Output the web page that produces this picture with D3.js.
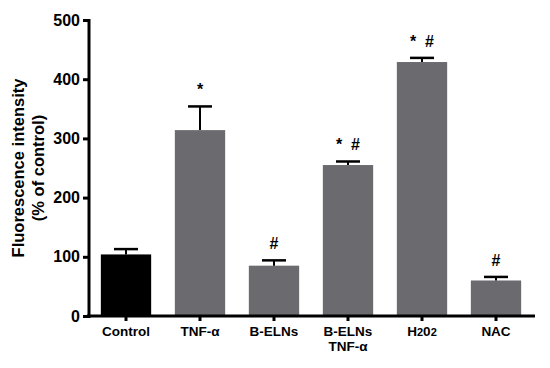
<!DOCTYPE html>
<html>
<head>
<meta charset="utf-8">
<script src="https://cdn.jsdelivr.net/npm/d3@7"></script>
<style>
  body { margin: 0; background: #fff; }
  text { font-family: "Liberation Sans", Arial, sans-serif; font-weight: bold; fill: #000; }
  .mark { white-space: pre; }
</style>
</head>
<body>
<svg id="chart" width="550" height="368"></svg>
<script>
// data
const groups = ["Control", "TNF-α", "B-ELNs", "B-ELNs\nTNF-α", "H2O2", "NAC"];
const means = [104, 314, 85, 255, 429, 60];
const errs = [9, 40, 9, 6, 7, 6];
const marks = ["", "*", "#", "*  #", "*  #", "#"];
const yTicks = [0, 100, 200, 300, 400, 500];

const svg = d3.select("#chart");

const x = d3.scaleBand().domain(groups).range([89, 533]).paddingInner(0.32).paddingOuter(0.16);
const y = d3.scaleLinear().domain([0, 500]).range([316, 20]);

// bars
svg.selectAll(".bar")
  .data(groups)
  .enter()
  .append("rect")
  .attr("x", d => x(d))
  .attr("width", x.bandwidth())
  .attr("y", (d, i) => y(means[i]))
  .attr("height", (d, i) => y(0) - y(means[i]))
  .attr("fill", (d, i) => i === 0 ? "#000" : "#6b6a6f");

// error bars (upper only)
const eb = svg.selectAll(".err").data(groups).enter().append("g");
eb.append("line")
  .attr("x1", d => x(d) + x.bandwidth() / 2)
  .attr("x2", d => x(d) + x.bandwidth() / 2)
  .attr("y1", (d, i) => y(means[i]))
  .attr("y2", (d, i) => y(means[i] + errs[i]))
  .attr("stroke", "#000").attr("stroke-width", 2);
eb.append("line")
  .attr("x1", d => x(d) + x.bandwidth() / 2 - 12)
  .attr("x2", d => x(d) + x.bandwidth() / 2 + 12)
  .attr("y1", (d, i) => y(means[i] + errs[i]))
  .attr("y2", (d, i) => y(means[i] + errs[i]))
  .attr("stroke", "#000").attr("stroke-width", 2.5);

// significance marks
svg.selectAll(".mark")
  .data(groups)
  .enter()
  .append("text")
  .attr("class", "mark")
  .attr("x", d => x(d) + x.bandwidth() / 2)
  .attr("y", (d, i) => y(means[i] + errs[i]) - 11)
  .attr("text-anchor", "middle")
  .attr("font-size", 16)
  .text((d, i) => marks[i]);

// y axis
const yAxis = svg.append("g")
  .attr("transform", "translate(89,0)")
  .call(d3.axisLeft(y).tickValues(yTicks).tickSize(6).tickPadding(3).tickSizeOuter(0));
yAxis.select(".domain").attr("stroke-width", 3).attr("d", "M0,318V19");
yAxis.selectAll(".tick line").attr("stroke-width", 3);
yAxis.selectAll("text").attr("font-size", 16).attr("font-family", "Liberation Sans, Arial, sans-serif").attr("font-weight", "bold");

// x axis
const xAxis = svg.append("g")
  .attr("transform", "translate(0,316)")
  .call(d3.axisBottom(x).tickSize(5).tickSizeOuter(0).tickFormat(""));
xAxis.select(".domain").attr("stroke-width", 3).attr("d", "M87,0H535");
xAxis.selectAll(".tick line").attr("stroke-width", 3);

// x labels (multi-line, with subscripts for H2O2)
const lbl = svg.selectAll(".xl")
  .data(groups)
  .enter()
  .append("text")
  .attr("x", d => x(d) + x.bandwidth() / 2)
  .attr("y", 336)
  .attr("text-anchor", "middle")
  .attr("font-size", 13.5);
lbl.each(function(d) {
  const t = d3.select(this);
  if (d === "H2O2") {
    t.append("tspan").text("H");
    t.append("tspan").attr("font-size", 11).text("2");
    t.append("tspan").text("0");
    t.append("tspan").attr("font-size", 11).text("2");
  } else {
    d.split("\n").forEach((s, k) => {
      t.append("tspan").attr("x", x(d) + x.bandwidth() / 2).attr("dy", k ? 15 : 0).text(s);
    });
  }
});

// y title
const yt = svg.append("text")
  .attr("transform", "translate(24,168) rotate(-90)")
  .attr("text-anchor", "middle")
  .attr("font-size", 16.5);
yt.append("tspan").attr("x", 0).attr("dy", 0).text("Fluorescence intensity");
yt.append("tspan").attr("x", 0).attr("dy", 20).text("(% of control)");
</script>
</body>
</html>
